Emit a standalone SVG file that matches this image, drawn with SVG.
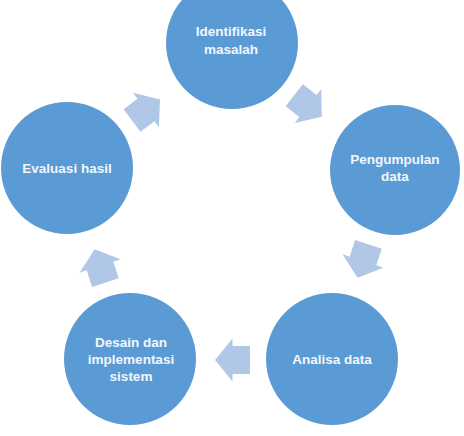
<svg xmlns="http://www.w3.org/2000/svg" xmlns:xlink="http://www.w3.org/1999/xlink" width="464" height="436" viewBox="0 0 464 436">
<style>
.c{fill:#5b9bd5}
.t{fill:#f2f6fc;font-family:"Liberation Sans",Arial,sans-serif;font-weight:bold;font-size:13.5px;text-anchor:middle}
.a{fill:#b0c7e7}
</style>
<defs>
<polygon id="arr" points="-17.5,-14 0,-14 0,-21.5 17.5,0 0,21.5 0,14 -17.5,14"/>
</defs>
<rect width="464" height="436" fill="#ffffff"/>
<g id="connectors">
<use xlink:href="#arr" class="a" transform="translate(308,106) rotate(38)"/>
<use xlink:href="#arr" class="a" transform="translate(363,261) rotate(108)"/>
<use xlink:href="#arr" class="a" transform="translate(232.5,360) rotate(180)"/>
<use xlink:href="#arr" class="a" transform="translate(100,266) rotate(-108)"/>
<use xlink:href="#arr" class="a" transform="translate(146,110) rotate(-37)"/>
</g>
<g id="identifikasi">
<circle class="c" cx="232" cy="43" r="66"/>
<text class="t" x="231" y="36">Identifikasi</text>
<text class="t" x="231" y="54">masalah</text>
</g>
<g id="pengumpulan">
<circle class="c" cx="395" cy="170" r="65"/>
<text class="t" x="395" y="164">Pengumpulan</text>
<text class="t" x="395" y="181">data</text>
</g>
<g id="analisa">
<circle class="c" cx="332" cy="359" r="66"/>
<text class="t" x="332" y="364">Analisa data</text>
</g>
<g id="desain">
<circle class="c" cx="130" cy="359" r="66"/>
<text class="t" x="131" y="347">Desain dan</text>
<text class="t" x="131" y="364">implementasi</text>
<text class="t" x="131" y="381">sistem</text>
</g>
<g id="evaluasi">
<circle class="c" cx="67" cy="168" r="66"/>
<text class="t" x="67" y="173">Evaluasi hasil</text>
</g>
</svg>
